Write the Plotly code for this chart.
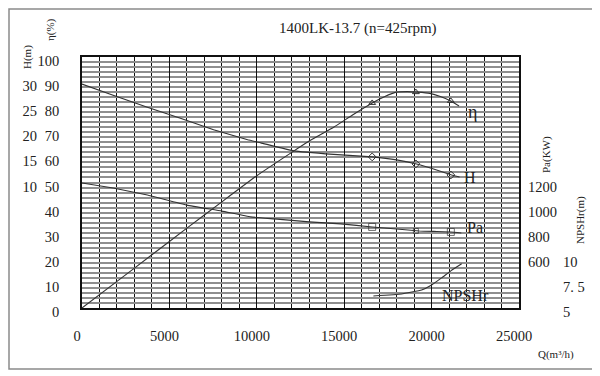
import plotly.graph_objects as go

# ---------------- data ----------------
x_ticks = [0, 5000, 10000, 15000, 20000, 25000]
x_ticktext = ["0", "5000", "10000", "15000", "20000", "25000"]
eff_ticks = [0, 10, 20, 30, 40, 50, 60, 70, 80, 90, 100]
head_ticks = [10, 15, 20, 25, 30]
power_ticks = [600, 800, 1000, 1200]
npsh_ticks = [5, 7.5, 10]
npsh_ticktext = ["5", "7. 5", "10"]

q_eff = [0, 2000, 4000, 6000, 8000, 10000, 12000, 13000, 14400, 15500, 16600,
         17300, 18000, 18600, 19200, 19900, 20500, 21100, 21570]
eff = [0, 10.6, 21.2, 31.8, 42.3, 52.7, 62.0, 66.5, 72.0, 77.0, 81.7,
       84.2, 86.0, 86.2, 86.0, 85.5, 84.3, 82.5, 80.5]

q_head = [0, 1780, 3740, 5630, 7530, 9480, 10230, 12130, 14400, 16600,
          18000, 19140, 20200, 21150, 21600]
head = [29.6, 27.4, 25.0, 22.8, 20.5, 18.5, 17.9, 16.3, 15.6, 15.1,
        14.5, 13.7, 12.6, 11.5, 11.1]

q_power = [0, 1780, 3740, 6000, 8000, 9650, 11000, 13000, 14800, 16600,
           18000, 19300, 20300, 21100, 21700]
power = [1196, 1156, 1100, 1020, 972, 926, 910, 886, 870, 846,
         830, 814, 810, 806, 798]

q_npsh = [16670, 18280, 19430, 20000, 20570, 21100, 21720]
npsh = [6.2, 6.4, 6.8, 7.3, 8.0, 8.7, 9.4]

q_marks = [16600, 19100, 21100]
eff_marks = [81.7, 86.0, 82.5]
head_marks = [15.1, 13.7, 11.5]
power_marks = [846, 814, 806]

# ---------------- figure ----------------
W, H = 592, 368
OFF = 8                          # page body margin offset
L, R, T, B = 82, 519, 57, 308    # plot area in screen pixels

def px(x):
    return (x - OFF) / W

def py(y):
    return 1 - (y - OFF) / H

SERIF = "Liberation Serif"
INK = "#222222"
line_style = dict(color="#333333", width=1.1)

fig = go.Figure()

def curve(xs, ys, axis):
    fig.add_trace(go.Scatter(x=xs, y=ys, mode="lines",
                             line=dict(shape="spline", smoothing=0.3, **line_style),
                             yaxis=axis, hoverinfo="skip"))

curve(q_eff, eff, "y")
curve(q_head, head, "y2")
curve(q_power, power, "y3")
curve(q_npsh, npsh, "y4")

mk_line = dict(color="#333333", width=1)
fig.add_trace(go.Scatter(x=q_marks, y=eff_marks, mode="markers", yaxis="y",
                         marker=dict(symbol="triangle-up-open", size=6, line=mk_line, color="#333333")))
fig.add_trace(go.Scatter(x=q_marks, y=head_marks, mode="markers", yaxis="y2",
                         marker=dict(symbol="diamond-open", size=6, line=mk_line, color="#333333")))
fig.add_trace(go.Scatter(x=q_marks, y=power_marks, mode="markers", yaxis="y3",
                         marker=dict(symbol="square-open", size=[7, 5, 7], line=mk_line, color="#333333")))

tickfont = dict(family=SERIF, size=14.5, color=INK)
YSHIFT = 4   # labels sit slightly below their grid lines

fig.update_layout(
    width=W, height=H,
    margin=dict(l=0, r=0, t=0, b=0, autoexpand=False),
    paper_bgcolor="white", plot_bgcolor="white",
    showlegend=False,
    xaxis=dict(
        domain=[px(L), px(R)], range=[0, 25000], tickvals=x_ticks, ticktext=x_ticktext,
        showgrid=True, gridcolor="#111111", gridwidth=1,
        minor=dict(dtick=1000, showgrid=True, gridcolor="#111111", gridwidth=1),
        showline=True, linecolor="#111111", linewidth=1.5, mirror=True,
        ticks="", zeroline=False, tickfont=tickfont, automargin=False,
        ticklabelstandoff=14, ticklabelshift=-5, anchor="y",
    ),
    yaxis=dict(
        domain=[py(B), py(T)], range=[0, 100], tickvals=eff_ticks,
        showgrid=True, gridcolor="#8f8f8f", gridwidth=1.6,
        minor=dict(dtick=2, showgrid=True, gridcolor="#8f8f8f", gridwidth=1.6),
        showline=True, linecolor="#111111", linewidth=1.5, mirror=True,
        ticks="", zeroline=False, tickfont=tickfont, automargin=False,
        ticklabelstandoff=18, ticklabelshift=YSHIFT, anchor="x",
    ),
    yaxis2=dict(
        overlaying="y", anchor="free", position=px(37), side="left",
        range=[-15, 35], tickvals=head_ticks, showgrid=False, showline=False,
        zeroline=False, ticks="", tickfont=tickfont, ticklabelshift=YSHIFT, automargin=False,
    ),
    yaxis3=dict(
        overlaying="y", anchor="free", position=px(527), side="right",
        range=[200, 2200], tickvals=power_ticks, showgrid=False, showline=False,
        zeroline=False, ticks="", tickfont=tickfont, ticklabelshift=YSHIFT, automargin=False,
    ),
    yaxis4=dict(
        overlaying="y", anchor="free", position=px(562), side="right",
        range=[5, 30], tickvals=npsh_ticks, ticktext=npsh_ticktext,
        showgrid=False, showline=False,
        zeroline=False, ticks="", tickfont=tickfont, ticklabelshift=YSHIFT, automargin=False,
    ),
)

# outer frame
fig.add_shape(type="rect", xref="paper", yref="paper",
              x0=px(9), x1=px(593), y0=py(369), y1=py(9),
              line=dict(color="#8a8a8a", width=1.5), layer="below")

def ann(text, x, y, size, angle=0):
    fig.add_annotation(text=text, xref="paper", yref="paper", x=px(x), y=py(y),
                       showarrow=False, textangle=angle, xanchor="center", yanchor="middle",
                       font=dict(family=SERIF, size=size, color=INK))

ann("1400LK-13.7 (n=425rpm)", 358, 28, 15)
ann("H(m)", 28, 57, 11, -90)
ann("η(%)", 50, 30, 11, -90)
ann("Pa(KW)", 547, 155, 11, -90)
ann("NPSHr(m)", 580, 220, 11, -90)
ann("Q(m³/h)", 556, 354, 11)

ann("η", 472, 112, 18)
ann("H", 470, 177, 16)
ann("Pa", 475, 227, 16)
ann("NPSHr", 465, 295, 16)

fig.write_html("out.html")
